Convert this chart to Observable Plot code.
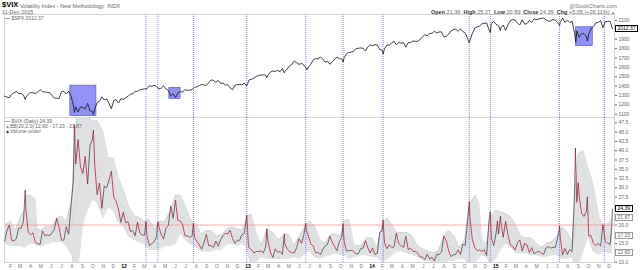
<!DOCTYPE html>
<html><head><meta charset="utf-8">
<script src="https://cdn.jsdelivr.net/npm/d3@7"></script>
<script src="https://cdn.jsdelivr.net/npm/@observablehq/plot@0.6"></script>
<style>
html,body{margin:0;padding:0;background:#fff;}
#wrap{position:relative;width:640px;height:270px;overflow:hidden;font-family:"Liberation Sans",Arial,sans-serif;color:#666;}
.t{position:absolute;white-space:nowrap;font-size:5.5px;line-height:6px;}
.panel{position:absolute;left:0;}
.vbox{position:absolute;left:615px;font-size:5px;line-height:5px;height:5px;padding:0 1.5px;background:#fff;border:0.7px solid #999;color:#666;}
.vbox.k{border-color:#000;color:#000;}
b{color:#333;}
</style></head><body><div id="wrap"></div>
<script>
// ---------- DATA ----------
const monthLetters = ["J","F","M","A","M","J","J","A","S","O","N","D"];
const weekStart = {2011:"2011-01-14", 2012:"2012-01-06", 2013:"2013-01-04", 2014:"2014-01-03", 2015:"2015-01-02"};

// weekly (Friday) VIX closes
const vix2011 = [15.5,18.5,20.0,15.9,15.7,16.4,19.2,19.1,21.0,24.4,18.0,17.4,17.9,15.3,15.0,14.8,18.4,17.1,17.4,17.1,17.9,18.9,21.8,19.3,15.9,15.95,19.5,17.5,25.3,32.0,36.4,43.0,35.6,33.9,38.5,31.0,41.3,43.0,36.2,28.2,31.3,24.5,30.5,30.0,32.0,34.5,27.5,26.4,24.3,20.7,23.4];
const vix2012 = [20.6,20.9,18.3,18.5,17.1,20.8,17.8,17.3,17.3,17.1,14.5,15.0,15.5,16.7,19.6,17.4,16.3,19.2,19.9,25.1,21.8,26.7,21.2,21.1,20.1,17.1,17.1,16.7,17.1,16.7,15.6,14.7,13.5,15.2,17.5,14.4,14.5,14.0,15.7,14.3,16.1,17.1,17.8,17.6,18.6,16.4,15.1,15.9,15.9,17.4,17.8,22.7];
const vix2013 = [13.8,13.4,12.5,12.9,12.9,13.0,12.5,14.2,15.4,12.6,11.3,13.6,12.7,12.9,12.1,15.0,13.6,12.9,12.6,12.45,13.9,16.3,15.1,17.15,18.9,16.9,14.9,14.4,12.5,12.7,12.0,13.4,14.4,14.8,17.0,15.4,14.2,13.1,15.5,16.7,15.7,13.0,13.1,13.2,12.9,12.2,12.3,13.7,13.8,15.8,13.8,12.5];
const vix2014 = [13.8,12.1,12.4,18.1,18.4,15.3,13.6,14.7,14.0,14.1,17.8,15.0,14.4,14.0,17.0,13.4,13.75,12.9,12.9,12.4,11.4,11.4,10.7,12.2,10.85,11.3,10.3,12.1,12.1,12.7,17.0,15.8,13.15,11.5,12.0,12.1,13.3,12.1,14.85,14.55,21.2,22.0,16.1,14.0,13.1,13.3,12.9,13.3,11.8,21.1,16.5,14.5];
const vix2015 = [17.8,17.55,20.95,16.7,21.0,17.3,14.7,14.3,13.3,15.2,16.0,13.0,15.1,14.7,12.6,13.9,12.3,12.7,12.9,12.4,12.1,13.8,14.2,13.8,14.0,14.0,16.8,16.8,11.95,13.7,12.1,13.4,12.8,28.0,26.1,27.8,23.2,22.3,23.6,17.1,17.1,15.05,14.5,15.1,14.3,20.1,15.5,15.1,14.8,24.39];
// mid-week spikes
const vixExtraDates = ["2011-03-16","2011-08-08","2011-10-03","2012-03-06","2012-04-10","2012-07-24","2012-12-31","2013-01-02","2013-02-25","2013-04-18","2013-06-20","2013-10-08","2014-02-03","2014-10-15","2014-12-16","2015-01-06","2015-01-15","2015-07-08","2015-08-24","2015-08-25","2015-09-01","2015-09-28","2015-12-09"];
const vixExtraValues = [29.4,47.0,45.5,20.9,20.9,20.5,18.0,14.7,19.0,17.6,20.5,20.3,21.4,26.3,23.6,21.1,22.4,19.7,40.7,36.0,31.4,27.6,19.6];

// weekly (Friday) S&P 500 closes
const spx2011 = [1293,1283,1276,1311,1329,1343,1320,1321,1304,1279,1313,1332,1328,1319,1337,1364,1340,1338,1333,1331,1300,1271,1271,1268,1340,1344,1316,1345,1292,1199,1179,1123,1177,1174,1154,1216,1136,1131,1155,1224,1238,1285,1253,1263,1216,1159,1244,1255,1219,1265,1258];
const spx2012 = [1278,1289,1315,1316,1345,1343,1361,1366,1370,1371,1404,1397,1408,1398,1370,1378,1403,1369,1353,1295,1318,1278,1325,1343,1335,1362,1355,1357,1363,1386,1391,1405,1418,1411,1407,1438,1466,1460,1441,1461,1429,1433,1411,1414,1380,1360,1409,1416,1418,1413,1430,1402];
const spx2013 = [1466,1472,1486,1503,1513,1518,1520,1516,1518,1551,1561,1556,1569,1553,1588,1555,1582,1614,1633,1667,1650,1631,1643,1626,1593,1606,1632,1680,1692,1691,1709,1691,1655,1664,1633,1655,1688,1710,1692,1690,1703,1745,1759,1762,1771,1798,1804,1806,1805,1775,1818,1841];
const spx2014 = [1831,1842,1838,1790,1783,1797,1838,1836,1859,1878,1841,1866,1857,1865,1815,1864,1863,1881,1878,1878,1900,1924,1949,1937,1963,1961,1985,1968,1978,1978,1925,1931,1955,1988,2003,2007,1985,2010,1982,1968,1906,1887,1964,2018,2032,2039,2064,2068,2075,2003,2070,2089];
const spx2015 = [2058,2045,2019,2051,1995,2055,2097,2110,2105,2071,2053,2108,2061,2067,2102,2081,2117,2108,2116,2123,2126,2107,2092,2094,2110,2102,2077,2077,2127,2080,2104,2078,2092,1971,1989,1921,1961,1958,1931,1951,2015,2033,2075,2079,2099,2023,2089,2090,2092,2012.37];
const spxExtraDates = ["2011-03-16","2011-08-08","2011-10-03","2013-02-25","2013-04-18","2013-06-24","2013-10-08","2014-02-03","2014-10-15","2014-12-16","2015-01-15","2015-07-08","2015-08-24","2015-08-25","2015-09-28"];
const spxExtraValues = [1257,1119,1099,1488,1541,1573,1656,1741,1862,1972,1992,2047,1893,1868,1881];

// Bollinger Bands (20,2)
const bbDates = ["2011-01-14","2011-02-01","2011-02-15","2011-03-01","2011-03-15","2011-03-20","2011-04-01","2011-04-14","2011-04-20","2011-05-01","2011-05-15","2011-06-01","2011-06-15","2011-07-01","2011-07-15","2011-08-01","2011-08-08","2011-08-15","2011-09-01","2011-09-15","2011-10-01","2011-10-15","2011-11-01","2011-11-15","2011-12-01","2011-12-15",
"2012-01-01","2012-01-15","2012-02-01","2012-02-15","2012-03-01","2012-03-15","2012-04-01","2012-04-15","2012-05-01","2012-05-15","2012-06-01","2012-06-15","2012-07-01","2012-07-15","2012-08-01","2012-08-15","2012-09-01","2012-09-15","2012-10-01","2012-10-15","2012-11-01","2012-11-15","2012-12-01","2012-12-15","2012-12-28",
"2013-01-10","2013-01-25","2013-02-08","2013-02-26","2013-03-15","2013-04-01","2013-04-19","2013-05-01","2013-05-17","2013-06-01","2013-06-20","2013-07-01","2013-07-15","2013-08-01","2013-08-15","2013-09-01","2013-09-15","2013-10-01","2013-10-10","2013-10-25","2013-11-10","2013-12-01","2013-12-15",
"2014-01-01","2014-01-15","2014-02-01","2014-02-15","2014-03-01","2014-03-15","2014-04-01","2014-04-15","2014-05-01","2014-05-15","2014-06-01","2014-06-15","2014-07-01","2014-07-15","2014-08-01","2014-08-15","2014-09-01","2014-09-15","2014-10-01","2014-10-15","2014-11-01","2014-11-12","2014-11-20","2014-12-05","2014-12-16",
"2015-01-01","2015-01-15","2015-02-01","2015-02-15","2015-03-01","2015-03-15","2015-04-01","2015-04-15","2015-05-01","2015-05-15","2015-06-01","2015-06-15","2015-07-01","2015-07-15","2015-08-01","2015-08-15","2015-08-24","2015-09-01","2015-09-15","2015-10-01","2015-10-15","2015-11-01","2015-11-15","2015-12-01","2015-12-11"];
const bbUpper = [20,21,18.5,22,24,28,28,27,19,18.5,19.5,19.5,21.5,22.5,21,27,42,49,50,49,48,48,45,38,38,33,
29,25,22.5,22,21,21.5,19,21,21,23.5,28,28,25,21.5,20.5,17.5,18.5,18.5,17,17.5,19,19.5,19,18.5,22,
23,18,14.5,19,18,16,17.5,17.5,14.5,17,20,21,20,16,15,17.5,17.5,17,21,21.5,14.5,14.5,16.5,
16.5,14,20,22,20,18,18,18,17,14.5,13.5,13,12.5,13,17,18.5,17,14,16,25,28,26,16,15,22,
24,23.5,23,22,20,17,16.5,16.5,15,14,15,15.5,17,19.5,18,15,30,39,40,35,31,22,20,20.5,21.87];
const bbLower = [15,14.5,14.5,14.5,14,14.5,15,15,14.5,14.3,14.8,15.5,15.5,15.5,14.5,12,8,5,20,24,27,26,22,25,24,21,
19.5,17,16,15.5,15,13.5,13.5,13.5,14.5,14.5,15,18,16,15,14,13,13,13,13.5,13.5,15,15,14.5,15,14,
9,10,11.5,11,11,11,11,11,11.5,11,12.5,13,11.5,11,11.5,12,12.5,12,12,11,11.5,12,12,
11.5,11.5,10,11,12,13,13,12.5,12,11.5,10.5,10.5,10,10,9.5,10.5,10.5,11,11,9,10,11,12,11.5,9.5,
11,13.5,15,14,12.5,12.5,12.5,12,12,11.5,11.5,12,12,11,11,11.5,8,9,13,17,13,12,13,12.5,12.6];

// vertical marker lines and highlight boxes
const markerDates = ["2012-03-06","2012-04-10","2012-07-24","2012-12-28","2013-06-20","2013-10-08","2014-02-03","2014-10-15","2014-12-16","2015-07-08","2015-11-17"];
const boxStart = ["2011-07-27","2012-05-14","2015-08-25"];
const boxEnd   = ["2011-10-12","2012-06-16","2015-10-14"];
const boxLow   = [1079,1262,1826];
const boxHigh  = [1405,1382,2028];

const spxTicks = [1100,1200,1300,1400,1500,1600,1700,1800,1900,2100];
const vixTicks = [10,15,20,27.5,30,32.5,35,37.5,40,42.5,45,47.5];
const spxLast = 2012.37, vixLast = 24.39, bbUpperLast = 21.87, bbMidLast = 17.23, bbLowerLast = 12.60;

// ---------- BUILD ----------
const D = s => new Date(s);
function weekly(byYear) {
  const out = [];
  for (const y of Object.keys(byYear)) {
    const s = D(weekStart[y]);
    byYear[y].forEach((v, i) => out.push({date: d3.utcDay.offset(s, 7 * i), v}));
  }
  return out;
}
function withExtras(base, dates, vals) {
  return base.concat(dates.map((d, i) => ({date: D(d), v: vals[i]}))).sort((a, b) => a.date - b.date);
}
const vix = withExtras(weekly({2011:vix2011,2012:vix2012,2013:vix2013,2014:vix2014,2015:vix2015}), vixExtraDates, vixExtraValues);
const spx = withExtras(weekly({2011:spx2011,2012:spx2012,2013:spx2013,2014:spx2014,2015:spx2015}), spxExtraDates, spxExtraValues);
const vixSeg = vix.slice(1).map((p, i) => ({x1: vix[i].date, y1: vix[i].v, x2: p.date, y2: p.v, up: p.v >= vix[i].v}));
const bb = bbDates.map((d, i) => ({date: D(d), up: bbUpper[i], lo: bbLower[i], mid: (bbUpper[i] + bbLower[i]) / 2}));
const markers = markerDates.map(D);
const boxes = boxStart.map((s, i) => ({s: D(s), e: D(boxEnd[i]), lo: boxLow[i], hi: boxHigh[i]}));

const xDomain = [D("2011-01-14"), D("2015-12-17")];
const FONT = "Liberation Sans, Arial, sans-serif";
const markerStyle = {stroke: "#3448f6", strokeWidth: 0.7, strokeOpacity: 0.9, strokeDasharray: "1,1"};

const topPlot = Plot.plot({
  width: 640, height: 103, marginLeft: 4, marginRight: 26, marginTop: 0, marginBottom: 0,
  style: {fontFamily: FONT, background: "transparent", overflow: "visible"},
  x: {type: "utc", domain: xDomain, axis: null},
  y: {domain: [1064.8, 2164]},
  marks: [
    Plot.frame({stroke: "#d4d4d4"}),
    Plot.rect(boxes, {x1: "s", x2: "e", y1: "lo", y2: "hi", fill: "#8585f5", fillOpacity: 0.9, stroke: "#5050e0", strokeWidth: 0.6, clip: true}),
    Plot.ruleX(markers, markerStyle),
    Plot.line(spx, {x: "date", y: "v", stroke: "#111", strokeWidth: 0.8, clip: true}),
    Plot.axisY(spxTicks, {anchor: "right", tickSize: 2, tickPadding: 2, fontSize: 5, color: "#666", label: null, tickFormat: d => String(d)})
  ]
});

const botPlot = Plot.plot({
  width: 640, height: 153, marginLeft: 4, marginRight: 26, marginTop: 0, marginBottom: 8,
  style: {fontFamily: FONT, background: "transparent", overflow: "visible"},
  x: {type: "utc", domain: xDomain},
  y: {domain: [9.92, 48.93]},
  marks: [
    Plot.frame({stroke: "#d4d4d4"}),
    Plot.areaY(bb, {x: "date", y1: "lo", y2: "up", fill: "#dfe1e3", clip: true}),
    Plot.line(bb, {x: "date", y: "up", stroke: "#c6c9cc", strokeWidth: 0.6, clip: true}),
    Plot.line(bb, {x: "date", y: "lo", stroke: "#c6c9cc", strokeWidth: 0.6, clip: true}),
    Plot.line(bb, {x: "date", y: "mid", stroke: "#cdd0d3", strokeWidth: 0.5, clip: true}),
    Plot.ruleY([20], {stroke: "#f2a0a0", strokeWidth: 0.9}),
    Plot.ruleX(markers, markerStyle),
    Plot.link(vixSeg, {x1: "x1", y1: "y1", x2: "x2", y2: "y2", stroke: d => d.up ? "#333" : "#c4001c", strokeWidth: 0.7, clip: true}),
    Plot.axisY(vixTicks, {anchor: "right", tickSize: 2, tickPadding: 2, fontSize: 5, color: "#666", label: null, tickFormat: d => d.toFixed(1)}),
    Plot.axisX(d3.utcMonth.range(D("2011-02-01"), D("2015-12-02")).filter(d => d.getUTCMonth() !== 0),
      {tickSize: 0, tickPadding: 2, fontSize: 5, color: "#777", label: null, tickFormat: d => monthLetters[d.getUTCMonth()]}),
    Plot.axisX(d3.utcYear.range(D("2012-01-01"), D("2015-12-31")),
      {tickSize: 0, tickPadding: 2, fontSize: 5, fontWeight: "bold", color: "#000", label: null, tickFormat: d => String(d.getUTCFullYear()).slice(2)})
  ]
});

// ---------- LAYOUT ----------
const wrap = document.getElementById("wrap");
function add(html, css, cls = "t") {
  const el = document.createElement("div");
  el.className = cls; el.innerHTML = html; Object.assign(el.style, css); wrap.appendChild(el); return el;
}
const tp = document.createElement("div"); tp.className = "panel"; tp.style.top = "14px"; tp.appendChild(topPlot); wrap.appendChild(tp);
const bp = document.createElement("div"); bp.className = "panel"; bp.style.top = "117px"; bp.appendChild(botPlot); wrap.appendChild(bp);

add("$VIX", {left: "2px", top: "1px", fontSize: "7.5px", fontWeight: "bold", color: "#000", lineHeight: "8px"});
add("Volatility Index - New Methodology &nbsp;INDX", {left: "20px", top: "2.5px"});
add("11-Dec-2015", {left: "2px", top: "8.5px"});
add("@StockCharts.com", {right: "23px", top: "2.5px", color: "#777"});
add("<b>Open</b> 21.36 &nbsp;<b>High</b> 25.27 &nbsp;<b>Low</b> 20.89 &nbsp;<b>Close</b> 24.39 &nbsp;<b>Chg</b> +5.05 (+26.11%) <span style='color:#2a9d2a;font-size:4px'>&#9650;</span>",
  {right: "25px", top: "8.5px"});
add("<span style='color:#000'>&#8212;</span> $SPX 2012.37", {left: "5px", top: "14.5px", fontSize: "5px"});
add("<span style='color:#000'>&#8212;</span> $VIX (Daily) 24.39", {left: "5px", top: "117.5px", fontSize: "5px"});
add("<span style='color:#999'>&#9650;</span>BB(20,2.0) 12.60 - 17.23 - 21.87", {left: "5px", top: "122.5px", fontSize: "5px"});
add("<span style='color:#333'>&#9650;</span>Volume undef", {left: "5px", top: "127.5px", fontSize: "5px"});

// value flags on the right axis, positioned with the plots' own y scales
const ysT = topPlot.scale("y"), ysB = botPlot.scale("y");
function flag(v, scale, offset, strong) {
  const el = add(v.toFixed(2), {}, "vbox" + (strong ? " k" : ""));
  el.style.top = (offset + scale.apply(v) - 3.2) + "px";
}
flag(spxLast, ysT, 14, true);
flag(vixLast, ysB, 117, true);
flag(bbUpperLast, ysB, 117, false);
flag(bbMidLast, ysB, 117, false);
flag(bbLowerLast, ysB, 117, false);
</script></body></html>
